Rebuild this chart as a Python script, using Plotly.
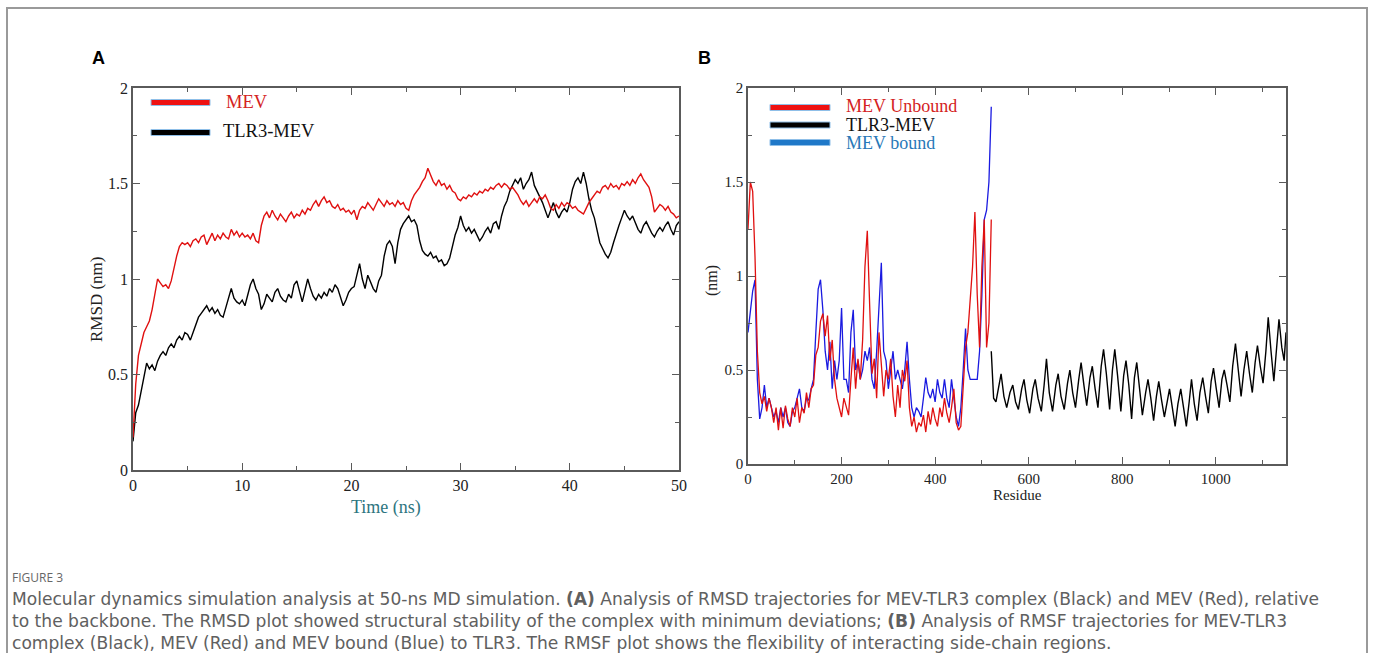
import numpy as np
import plotly.graph_objects as go

W, H = 1375, 653

# ---------------- Panel A data: RMSD vs time (ns), sampled every 0.25 ns ----------------
time_ns = np.round(np.arange(0, 50.001, 0.25), 2)

rmsd_mev = [
    0.17, 0.45, 0.60, 0.66, 0.72, 0.75, 0.78, 0.84,
    0.93, 1.00, 0.98, 0.96, 0.97, 0.95, 0.99, 1.06,
    1.12, 1.17, 1.19, 1.18, 1.19, 1.17, 1.20, 1.21,
    1.19, 1.22, 1.23, 1.18, 1.21, 1.24, 1.20, 1.23,
    1.21, 1.24, 1.22, 1.21, 1.26, 1.23, 1.25, 1.22,
    1.24, 1.22, 1.23, 1.21, 1.24, 1.20, 1.19, 1.28,
    1.33, 1.35, 1.32, 1.36, 1.33, 1.31, 1.34, 1.32,
    1.30, 1.33, 1.35, 1.32, 1.34, 1.33, 1.36, 1.34,
    1.37, 1.36, 1.39, 1.41, 1.38, 1.41, 1.43, 1.40,
    1.41, 1.38, 1.37, 1.39, 1.36, 1.37, 1.35, 1.36,
    1.34, 1.36, 1.31, 1.36, 1.38, 1.37, 1.40, 1.38,
    1.36, 1.39, 1.42, 1.40, 1.38, 1.41, 1.39, 1.40,
    1.38, 1.41, 1.39, 1.40, 1.37, 1.36, 1.41, 1.44,
    1.46, 1.48, 1.51, 1.53, 1.58, 1.54, 1.51, 1.49,
    1.52, 1.49, 1.50, 1.47, 1.49, 1.46, 1.45, 1.42,
    1.41, 1.43, 1.42, 1.44, 1.43, 1.45, 1.44, 1.46,
    1.45, 1.47, 1.46, 1.48, 1.47, 1.49, 1.50, 1.48,
    1.50, 1.49, 1.47, 1.48, 1.46, 1.44, 1.41, 1.39,
    1.41, 1.38, 1.40, 1.42, 1.40, 1.43, 1.42, 1.44,
    1.41, 1.37, 1.36, 1.39, 1.37, 1.40, 1.38, 1.40,
    1.39, 1.37, 1.38, 1.36, 1.35, 1.34, 1.37, 1.40,
    1.42, 1.44, 1.46, 1.45, 1.48, 1.49, 1.47, 1.50,
    1.48, 1.49, 1.47, 1.50, 1.49, 1.51, 1.49, 1.52,
    1.50, 1.53, 1.55, 1.52, 1.50, 1.48, 1.43, 1.35,
    1.37, 1.39, 1.38, 1.36, 1.38, 1.35, 1.34, 1.32,
    1.33,
]

rmsd_tlr3_mev = [
    0.15, 0.30, 0.34, 0.42, 0.50, 0.56, 0.53, 0.55,
    0.52, 0.57, 0.60, 0.62, 0.60, 0.64, 0.66, 0.64,
    0.68, 0.70, 0.68, 0.72, 0.71, 0.68, 0.72, 0.76,
    0.80, 0.82, 0.84, 0.86, 0.83, 0.85, 0.82, 0.84,
    0.81, 0.80, 0.85, 0.90, 0.95, 0.90, 0.88, 0.87,
    0.89, 0.86, 0.91, 0.97, 1.00, 0.95, 0.92, 0.84,
    0.87, 0.92, 0.90, 0.88, 0.93, 0.95, 0.91, 0.89,
    0.88, 0.92, 0.90, 0.97, 0.99, 0.93, 0.88, 0.94,
    1.00, 0.95, 0.91, 0.89, 0.92, 0.90, 0.93, 0.91,
    0.95, 0.93, 0.97, 0.95, 0.90, 0.86, 0.89, 0.93,
    0.95, 0.96, 1.02, 1.08, 1.00, 0.95, 1.02, 0.98,
    0.95, 0.93, 0.99, 1.02, 1.12, 1.18, 1.20, 1.17,
    1.08, 1.19, 1.26, 1.29, 1.31, 1.33, 1.30, 1.31,
    1.28, 1.20, 1.15, 1.13, 1.12, 1.14, 1.11, 1.12,
    1.09, 1.10, 1.07, 1.08, 1.11, 1.17, 1.23, 1.27,
    1.33, 1.28, 1.25, 1.27, 1.24, 1.26, 1.23, 1.20,
    1.22, 1.25, 1.27, 1.24, 1.29, 1.30, 1.26, 1.33,
    1.38, 1.41, 1.46, 1.49, 1.52, 1.50, 1.53, 1.47,
    1.50, 1.52, 1.56, 1.49, 1.46, 1.43, 1.40, 1.36,
    1.32, 1.36, 1.40, 1.35, 1.32, 1.35, 1.37, 1.35,
    1.40, 1.47, 1.51, 1.53, 1.50, 1.56, 1.50, 1.42,
    1.36, 1.32, 1.26, 1.19, 1.16, 1.13, 1.11, 1.14,
    1.19, 1.24, 1.28, 1.32, 1.36, 1.33, 1.31, 1.33,
    1.29, 1.26, 1.24, 1.28, 1.30, 1.27, 1.24, 1.22,
    1.25, 1.27, 1.25, 1.28, 1.30, 1.26, 1.23, 1.28,
    1.30,
]

# ---------------- Panel B data: RMSF vs residue ----------------
residue_mev = list(range(0, 521, 5))

rmsf_mev_unbound = [
    1.25, 1.50, 1.45, 1.10, 0.60, 0.38, 0.32, 0.36, 0.28, 0.35,
    0.30, 0.22, 0.30, 0.18, 0.30, 0.19, 0.31, 0.24, 0.20, 0.30,
    0.25, 0.35, 0.22, 0.30, 0.27, 0.38, 0.30, 0.40, 0.42, 0.58,
    0.62, 0.76, 0.80, 0.68, 0.79, 0.55, 0.66, 0.45, 0.35, 0.30,
    0.25, 0.35, 0.30, 0.26, 0.45, 0.62, 0.40, 0.56, 0.45, 0.66,
    1.05, 1.24, 0.85, 0.48, 0.56, 0.35, 0.70, 0.54, 0.36, 0.50,
    0.45, 0.56, 0.36, 0.25, 0.42, 0.30, 0.50, 0.44, 0.55, 0.30,
    0.20, 0.25, 0.17, 0.22, 0.20, 0.26, 0.17, 0.28, 0.21, 0.30,
    0.24, 0.20, 0.30, 0.25, 0.35, 0.27, 0.22, 0.30, 0.40, 0.22,
    0.18, 0.20, 0.42, 0.62, 0.70, 0.88, 1.05, 1.34, 0.90, 0.62,
    1.05, 1.30, 0.62, 0.75, 1.30,
]

rmsf_mev_bound = [
    0.70, 0.82, 0.92, 0.98, 0.45, 0.24, 0.30, 0.42, 0.30, 0.35,
    0.30, 0.25, 0.28, 0.22, 0.30, 0.25, 0.30, 0.22, 0.20, 0.28,
    0.30, 0.35, 0.40, 0.30, 0.28, 0.35, 0.34, 0.40, 0.45, 0.70,
    0.93, 0.98, 0.82, 0.60, 0.50, 0.65, 0.40, 0.55, 0.45, 0.55,
    0.83, 0.45, 0.45, 0.38, 0.70, 0.82, 0.50, 0.55, 0.45, 0.50,
    0.60, 0.55, 0.62, 0.45, 0.40, 0.60, 0.82, 1.07, 0.60, 0.55,
    0.40, 0.50, 0.60, 0.45, 0.50, 0.45, 0.40, 0.50, 0.65, 0.45,
    0.30, 0.25, 0.30, 0.28, 0.25, 0.35, 0.46, 0.38, 0.35, 0.40,
    0.33, 0.45, 0.38, 0.35, 0.45, 0.35, 0.30, 0.45, 0.35, 0.25,
    0.20, 0.30, 0.50, 0.72, 0.50, 0.45, 0.45, 0.45, 0.45, 0.60,
    0.90, 1.30, 1.35, 1.50, 1.90,
]

residue_tlr3 = [
    520, 525, 530, 537, 541, 547, 553, 560, 566, 572, 578, 585, 590, 596,
    602, 609, 614, 620, 627, 633, 638, 644, 651, 658, 663, 669, 676, 683,
    688, 694, 700, 707, 712, 718, 724, 731, 736, 742, 748, 755, 760, 766,
    773, 779, 784, 790, 797, 803, 808, 814, 820, 826, 831, 837, 843, 850,
    855, 861, 867, 873, 878, 884, 890, 896, 901, 907, 913, 919, 925, 931,
    937, 943, 948, 954, 960, 966, 972, 978, 984, 990, 995, 1001, 1007, 1013,
    1018, 1024, 1030, 1036, 1042, 1048, 1054, 1060, 1066, 1072, 1078, 1084,
    1089, 1095, 1101, 1107, 1112, 1118, 1124, 1130, 1135, 1141, 1146, 1150,
]
rmsf_tlr3 = [
    0.60, 0.35, 0.33, 0.43, 0.48, 0.36, 0.30, 0.38, 0.42, 0.33, 0.29, 0.40, 0.45, 0.34,
    0.27, 0.40, 0.45, 0.35, 0.28, 0.42, 0.56, 0.38, 0.28, 0.42, 0.48, 0.36, 0.29, 0.43,
    0.50, 0.38, 0.30, 0.45, 0.54, 0.42, 0.31, 0.46, 0.52, 0.40, 0.30, 0.52, 0.61, 0.48,
    0.29, 0.50, 0.61, 0.47, 0.28, 0.47, 0.55, 0.42, 0.24, 0.46, 0.54, 0.40, 0.26, 0.38,
    0.45, 0.35, 0.23, 0.36, 0.44, 0.34, 0.25, 0.33, 0.40, 0.30, 0.20, 0.32, 0.40, 0.30,
    0.20, 0.33, 0.45, 0.32, 0.23, 0.38, 0.46, 0.36, 0.27, 0.44, 0.51, 0.40, 0.30, 0.45,
    0.50, 0.42, 0.33, 0.52, 0.64, 0.50, 0.36, 0.50, 0.60, 0.48, 0.38, 0.54,
    0.63, 0.52, 0.43, 0.60, 0.78, 0.60, 0.44, 0.62, 0.77, 0.62, 0.55, 0.70,
]

caption_lines = [
    "Molecular dynamics simulation analysis at 50-ns MD simulation. <b>(A)</b> Analysis of RMSD trajectories for MEV-TLR3 complex (Black) and MEV (Red), relative",
    "to the backbone. The RMSD plot showed structural stability of the complex with minimum deviations; <b>(B)</b> Analysis of RMSF trajectories for MEV-TLR3",
    "complex (Black), MEV (Red) and MEV bound (Blue) to TLR3. The RMSF plot shows the flexibility of interacting side-chain regions.",
]

RED = "#e01010"
BLUE = "#1a1ae0"
SERIF = "Liberation Serif"


def px(x):
    return x / W


def py(y):
    return 1 - y / H


fig = go.Figure()

fig.add_trace(go.Scatter(x=time_ns, y=rmsd_tlr3_mev, mode="lines", name="TLR3-MEV",
                         line=dict(color="#000000", width=1.4), xaxis="x", yaxis="y"))
fig.add_trace(go.Scatter(x=time_ns, y=rmsd_mev, mode="lines", name="MEV",
                         line=dict(color=RED, width=1.4), xaxis="x", yaxis="y"))

fig.add_trace(go.Scatter(x=residue_mev, y=rmsf_mev_bound, mode="lines", name="MEV bound",
                         line=dict(color=BLUE, width=1.3), xaxis="x2", yaxis="y2"))
fig.add_trace(go.Scatter(x=residue_mev, y=rmsf_mev_unbound, mode="lines", name="MEV Unbound",
                         line=dict(color=RED, width=1.3), xaxis="x2", yaxis="y2"))
fig.add_trace(go.Scatter(x=residue_tlr3, y=rmsf_tlr3, mode="lines", name="TLR3-MEV",
                         line=dict(color="#000000", width=1.4), xaxis="x2", yaxis="y2"))

axis_common = dict(
    showline=True, linecolor="#5a5a5a", linewidth=1.5, mirror="ticks",
    ticks="inside", ticklen=7, tickwidth=1.2, tickcolor="#5a5a5a",
    showgrid=False, zeroline=False, automargin=False,
    tickfont=dict(family=SERIF, size=16, color="#222222"),
)
tickfont_b = dict(family=SERIF, size=15, color="#222222")

fig.update_layout(
    width=W, height=H,
    margin=dict(l=0, r=0, t=0, b=0),
    paper_bgcolor="white", plot_bgcolor="white",
    showlegend=False,
    xaxis=dict(axis_common, domain=[px(133), px(679)], range=[0, 50], dtick=10,
               anchor="y",
               minor=dict(ticks="inside", ticklen=4, dtick=5, tickcolor="#5a5a5a", showgrid=False)),
    yaxis=dict(axis_common, domain=[py(470), py(88)], range=[0, 2], dtick=0.5,
               anchor="x",
               minor=dict(ticks="inside", ticklen=4, dtick=0.25, tickcolor="#5a5a5a", showgrid=False)),
    xaxis2=dict(axis_common, domain=[px(748), px(1286)], range=[0, 1150], dtick=200,
                anchor="y2", tickfont=tickfont_b,
                minor=dict(ticks="inside", ticklen=4, dtick=100, tickcolor="#5a5a5a", showgrid=False)),
    yaxis2=dict(axis_common, domain=[py(464), py(88)], range=[0, 2], dtick=0.5,
                anchor="x2", tickfont=tickfont_b,
                minor=dict(ticks="inside", ticklen=4, dtick=0.25, tickcolor="#5a5a5a", showgrid=False)),
)

shapes = []
# outer figure frame (top, left, right)
shapes.append(dict(type="rect", xref="paper", yref="paper",
                   x0=px(7), x1=px(1367), y0=py(700), y1=py(8),
                   line=dict(color="#9a9a9a", width=2), fillcolor="rgba(0,0,0,0)", layer="below"))


def swatch(x0, x1, yc, color, h=6):
    return dict(type="rect", xref="paper", yref="paper",
                x0=px(x0), x1=px(x1), y0=py(yc + h / 2), y1=py(yc - h / 2),
                fillcolor=color, line=dict(color="#8fbfe8", width=1))


shapes.append(swatch(151, 210, 102.5, "#ee1111"))
shapes.append(swatch(151, 210, 132.5, "#000000"))
shapes.append(swatch(770, 830, 107.5, "#ee1111"))
shapes.append(swatch(770, 830, 125, "#000000"))
shapes.append(swatch(770, 830, 142.5, "#1f78c8"))
fig.update_layout(shapes=shapes)


def text_at(txt, x, y, size, color, family=SERIF, xanchor="center", angle=0, yanchor="middle"):
    return dict(text=txt, x=px(x), y=py(y), xref="paper", yref="paper",
                xanchor=xanchor, yanchor=yanchor, showarrow=False, textangle=angle,
                align="left", borderpad=0, font=dict(family=family, size=size, color=color))


ann = []
# panel letters
ann.append(text_at("<b>A</b>", 91, 58, 18, "#000000", "Liberation Sans", "left"))
ann.append(text_at("<b>B</b>", 697, 58, 18, "#000000", "Liberation Sans", "left"))

# axis titles
ann.append(text_at("Time (ns)", 386, 507, 18, "#2e7580"))
ann.append(text_at("RMSD (nm)", 96, 300, 17, "#222222", angle=-90))
ann.append(text_at("Residue", 1017, 495, 15, "#222222"))
ann.append(text_at("(nm)", 712, 281, 16, "#222222", angle=-90))

# legends
ann.append(text_at("MEV", 225, 102, 18.5, "#d42222", xanchor="left"))
ann.append(text_at("TLR3-MEV", 222, 131, 18.5, "#111111", xanchor="left"))
ann.append(text_at("MEV Unbound", 845, 106, 18, "#d42222", xanchor="left"))
ann.append(text_at("TLR3-MEV", 845, 124.5, 18, "#111111", xanchor="left"))
ann.append(text_at("MEV bound", 845, 142.5, 18, "#2878b8", xanchor="left"))

# caption
ann.append(text_at("FIGURE 3", 11, 577, 12, "#666666", "Open Sans", "left"))
caption_y = [598.5, 621, 643]
for line, yy in zip(caption_lines, caption_y):
    ann.append(text_at(line, 11, yy, 17.1, "#606060", "DejaVu Sans", "left"))

fig.update_layout(annotations=ann)

fig.write_html("out.html", config={"displayModeBar": False},
               post_script="document.body.style.margin='0px';")
